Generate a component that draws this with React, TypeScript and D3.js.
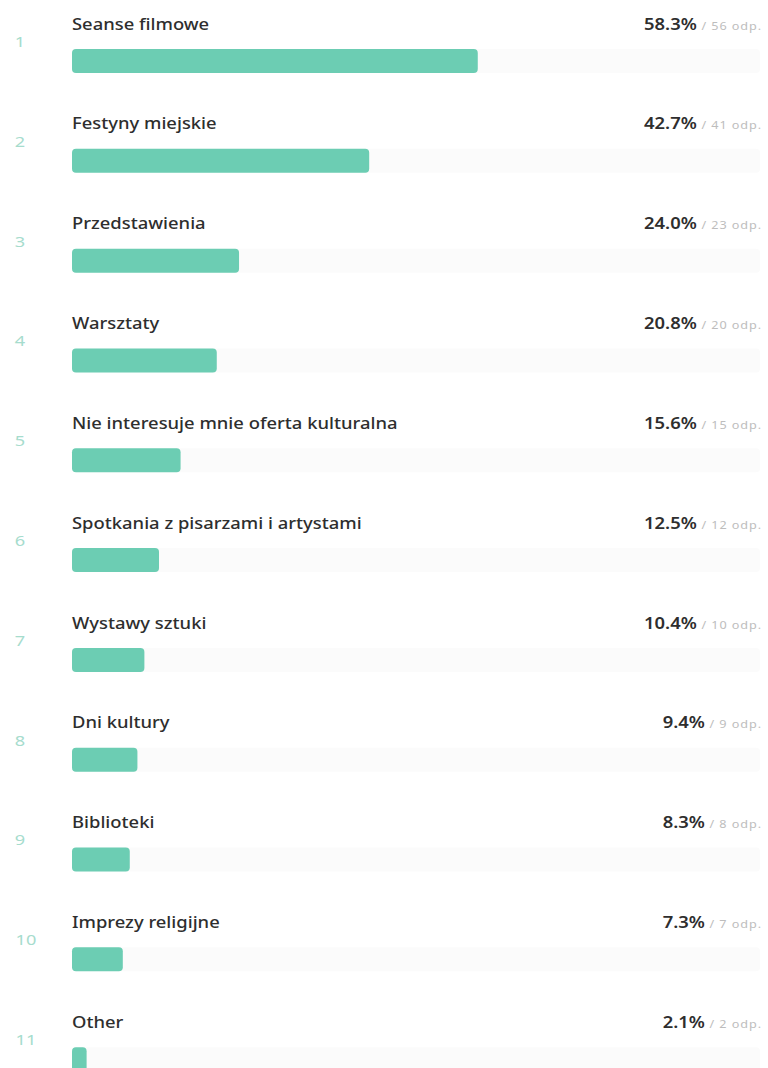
import React from "react";
import * as d3 from "d3";

const categories = [
  "Seanse filmowe",
  "Festyny miejskie",
  "Przedstawienia",
  "Warsztaty",
  "Nie interesuje mnie oferta kulturalna",
  "Spotkania z pisarzami i artystami",
  "Wystawy sztuki",
  "Dni kultury",
  "Biblioteki",
  "Imprezy religijne",
  "Other",
];
const percents = [58.3, 42.7, 24.0, 20.8, 15.6, 12.5, 10.4, 9.4, 8.3, 7.3, 2.1];
const counts = [56, 41, 23, 20, 15, 12, 10, 9, 8, 7, 2];

const W = 768;
const H = 1068;

export default function App() {
  const x = d3.scaleLinear().domain([0, 100]).range([72, 768]);
  const y = d3
    .scaleBand<number>()
    .domain(d3.range(categories.length))
    .range([0, 1098])
    .paddingInner(0);
  const barH = 24;
  const font = "'Noto Sans', sans-serif";
  const sx = 1.15;
  return (
    <svg
      width={W}
      height={H}
      style={{ position: "absolute", left: 0, top: 0, background: "#fff" }}
      fontFamily={font}
    >
      {categories.map((c, i) => {
        const y0 = y(i)!;
        return (
          <g key={c}>
            <text
              transform={`translate(${i >= 9 ? 26 : 20},${y0 + 42}) scale(1.3,1)`}
              dy="0.35em"
              textAnchor="middle"
              fontSize={14}
              fill="#a6dccd"
            >
              {i + 1}
            </text>
            <text
              transform={`translate(${x(0)},${y0 + 24}) scale(${sx},1)`}
              dy="0.35em"
              fontSize={16}
              fontWeight={500}
              fill="#2e2e2e"
            >
              {c}
            </text>
            <text
              transform={`translate(762,${y0 + 24}) scale(${sx},1)`}
              dy="0.35em"
              textAnchor="end"
            >
              <tspan fontSize={16} fontWeight={600} fill="#2e2e2e">
                {percents[i].toFixed(1) + "%"}
              </tspan>
              <tspan fontSize={11} fill="#bdbdbd" dx={4} letterSpacing={0.8}>
                {"/ " + counts[i] + " odp."}
              </tspan>
            </text>
            <rect
              x={x(0)}
              y={y0 + 61 - barH / 2}
              width={x(100) - x(0) - 8}
              height={barH}
              rx={4}
              fill="#fbfbfb"
            />
            <rect
              x={x(0)}
              y={y0 + 61 - barH / 2}
              width={x(percents[i]) - x(0)}
              height={barH}
              rx={4}
              fill="#6ccdb3"
            />
          </g>
        );
      })}
    </svg>
  );
}
